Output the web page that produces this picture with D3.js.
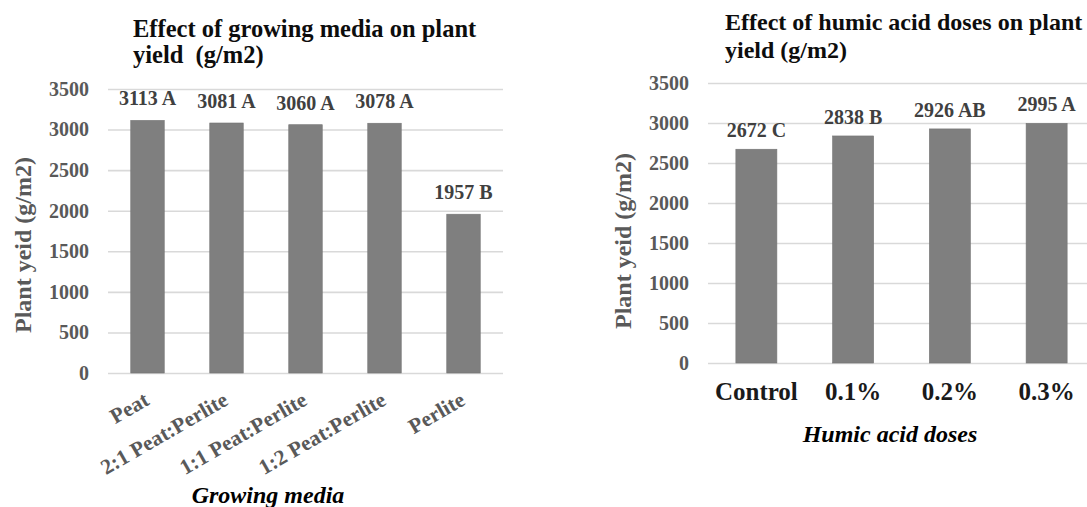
<!DOCTYPE html>
<html>
<head>
<meta charset="utf-8">
<script src="https://cdn.jsdelivr.net/npm/d3@7"></script>
<style>
  html, body { margin: 0; padding: 0; background: #fff; overflow: hidden; }
  svg { display: block; }
  svg text { font-family: "Liberation Serif", "Tinos", "DejaVu Serif", "Noto Serif", serif !important; white-space: pre; }
</style>
</head>
<body>
<svg id="chart" width="1087" height="507"></svg>
<script>
// Growing media experiment
const mediaCategories = ["Peat", "2:1 Peat:Perlite", "1:1 Peat:Perlite", "1:2 Peat:Perlite", "Perlite"];
const mediaYield = [3113, 3081, 3060, 3078, 1957];
const mediaGroups = ["A", "A", "A", "A", "B"];

// Humic acid experiment
const doseCategories = ["Control", "0.1%", "0.2%", "0.3%"];
const doseYield = [2672, 2838, 2926, 2995];
const doseGroups = ["C", "B", "AB", "A"];

const yTickValues = [0, 500, 1000, 1500, 2000, 2500, 3000, 3500];

const svg = d3.select("#chart");

function drawPanel(cfg) {
  const g = svg.append("g");
  const x = d3.scaleBand().domain(cfg.categories).range([cfg.left, cfg.right])
    .paddingInner(cfg.padding).paddingOuter(cfg.padding / 2);
  const y = d3.scaleLinear().domain([0, 3500]).range([cfg.bottom, cfg.top]);

  // gridlines + value labels on the left
  const yAxis = g.append("g")
    .attr("transform", `translate(${cfg.left},0)`)
    .call(d3.axisLeft(y).tickValues(yTickValues).tickSize(-(cfg.right - cfg.left)).tickPadding(cfg.tickPad).tickFormat(d3.format("d")));
  yAxis.select(".domain").remove();
  yAxis.selectAll(".tick line").attr("stroke", "#d9d9d9").attr("stroke-width", 1.6);
  yAxis.selectAll(".tick text")
    .attr("fill", "#595959").attr("font-size", 20).attr("font-weight", "bold");

  // bars
  g.append("g").selectAll("rect")
    .data(cfg.values)
    .join("rect")
    .attr("x", (d, i) => x(cfg.categories[i]))
    .attr("y", d => y(d))
    .attr("width", x.bandwidth())
    .attr("height", d => y(0) - y(d))
    .attr("fill", "#7f7f7f")
    .attr("stroke", "#747474")
    .attr("stroke-width", 0.6);

  // value + significance labels
  g.append("g").selectAll("text")
    .data(cfg.values)
    .join("text")
    .attr("x", (d, i) => x(cfg.categories[i]) + x.bandwidth() / 2)
    .attr("y", d => y(d) - cfg.labelGap)
    .attr("text-anchor", "middle")
    .attr("font-size", 20).attr("font-weight", "bold").attr("fill", "#404040")
    .text((d, i) => `${d} ${cfg.groups[i]}`);

  // category axis
  const xAxis = g.append("g")
    .attr("transform", `translate(0,${cfg.bottom})`)
    .call(d3.axisBottom(x).tickSize(0).tickPadding(0));
  xAxis.select(".domain").remove();
  cfg.styleCategoryLabels(xAxis.selectAll(".tick text"), x);

  // chart title
  const title = g.append("text")
    .attr("x", cfg.titleX).attr("y", cfg.titleY)
    .attr("font-size", cfg.titleSize).attr("font-weight", "bold").attr("fill", "#0d0d0d");
  cfg.title.forEach((line, i) => {
    title.append("tspan").attr("x", cfg.titleX).attr("dy", i === 0 ? 0 : cfg.titleLead).text(line);
  });

  // axis titles
  g.append("text")
    .attr("transform", `translate(${cfg.yTitleX},${cfg.yTitleY}) rotate(-90)`)
    .attr("text-anchor", "middle")
    .attr("font-size", 24).attr("font-weight", "bold").attr("fill", "#595959")
    .text("Plant yeid (g/m2)");

  g.append("text")
    .attr("x", cfg.xTitleX).attr("y", cfg.xTitleY)
    .attr("text-anchor", "middle")
    .attr("font-size", 24).attr("font-weight", "bold").attr("font-style", "italic").attr("fill", "#000")
    .text(cfg.xTitle);
}

drawPanel({
  categories: mediaCategories, values: mediaYield, groups: mediaGroups,
  left: 108, right: 503, top: 89, bottom: 373, padding: 0.576, tickPad: 19, labelGap: 15,
  title: ["Effect of growing media on plant", "yield  (g/m2)"], titleX: 133, titleY: 37, titleLead: 26, titleSize: 24.5,
  yTitleX: 31, yTitleY: 245,
  xTitle: "Growing media", xTitleX: 268, xTitleY: 503,
  styleCategoryLabels: (sel) => {
    sel.attr("text-anchor", "end")
      .attr("font-size", 21.5).attr("font-weight", "bold").attr("fill", "#595959")
      .attr("y", 0).attr("dy", 0)
      .attr("transform", "translate(3,31) rotate(-30)");
  }
});

drawPanel({
  categories: doseCategories, values: doseYield, groups: doseGroups,
  left: 708, right: 1095, top: 83, bottom: 363, padding: 0.576, tickPad: 19, labelGap: 12,
  title: ["Effect of humic acid doses on plant", "yield (g/m2)"], titleX: 725, titleY: 30, titleLead: 28, titleSize: 24,
  yTitleX: 631, yTitleY: 241,
  xTitle: "Humic acid doses", xTitleX: 890, xTitleY: 442,
  styleCategoryLabels: (sel) => {
    sel.attr("text-anchor", "middle")
      .attr("font-size", 25).attr("font-weight", "bold").attr("fill", "#1a1a1a")
      .attr("y", 37).attr("dy", 0);
  }
});
</script>
</body>
</html>
